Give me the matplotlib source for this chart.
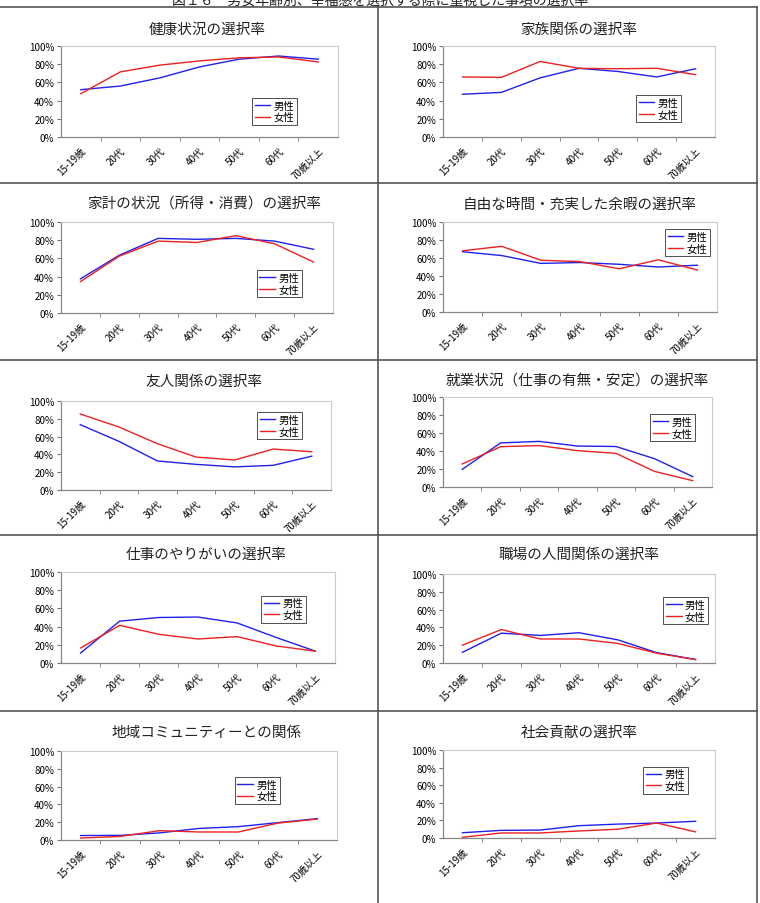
import matplotlib
matplotlib.use('Agg')
import matplotlib.pyplot as plt
from matplotlib.lines import Line2D
from matplotlib.ticker import FixedLocator, PercentFormatter

plt.rcParams['font.family'] = ['Noto Sans CJK JP', 'DejaVu Sans']

W, H = 760, 904

ages = ['15-19歳', '20代', '30代', '40代', '50代', '60代', '70歳以上']

titles = [
    '健康状況の選択率',
    '家族関係の選択率',
    '家計の状況（所得・消費）の選択率',
    '自由な時間・充実した余暇の選択率',
    '友人関係の選択率',
    '就業状況（仕事の有無・安定）の選択率',
    '仕事のやりがいの選択率',
    '職場の人間関係の選択率',
    '地域コミュニティーとの関係',
    '社会貢献の選択率',
]

male = [
    [52, 56, 65, 77, 85.5, 89, 85.5],
    [47, 49, 65, 75.5, 72, 66, 75],
    [37.5, 63.5, 82, 81, 82, 79, 70],
    [67, 62.7, 54, 55, 53, 50, 52],
    [73.4, 54.7, 32.6, 28.8, 26, 27.7, 38],
    [19.6, 49, 50.7, 45.5, 45, 31.5, 11.5],
    [11, 46, 50, 50.5, 44, 28, 13],
    [12, 33.5, 31, 34, 26, 11.6, 4],
    [5, 5.2, 8, 13, 15, 19.5, 24],
    [6, 8.7, 9, 14, 15.8, 17, 19],
]

female = [
    [47.6, 71.6, 79, 83.6, 87, 88, 82.5],
    [66, 65.5, 83, 75.5, 75, 75.5, 68.5],
    [34.5, 62.5, 79, 77.5, 85, 76, 56],
    [68, 73, 57.5, 56, 48, 58, 46.6],
    [85.4, 70.8, 52, 37, 33.7, 46, 43],
    [25.6, 44.8, 46, 40.4, 37.4, 17.4, 7],
    [16.5, 41.4, 31.5, 26.4, 29, 18.7, 13],
    [20, 37.6, 27, 27, 22, 11, 3.8],
    [2.2, 4, 10.5, 9, 9, 19, 23.5],
    [0.8, 5.7, 5.7, 8, 10, 17, 7],
]

# plot area in pixels: left, top, right, bottom ; title y ; legend anchor (axes fraction)
panels = [
    (61, 47, 338, 138, 30, (0.69, 0.43)),
    (443, 47, 715, 138, 30, (0.71, 0.46)),
    (61, 223, 333, 314, 205, (0.72, 0.47)),
    (443, 223, 717, 313, 205, (0.81, 0.92)),
    (61, 402, 331, 491, 382, (0.726, 0.876)),
    (443, 398, 712, 488, 382, (0.77, 0.81)),
    (61, 573, 335, 664, 555, (0.73, 0.74)),
    (443, 575, 715, 664, 555, (0.81, 0.74)),
    (61, 752, 337, 841, 733, (0.63, 0.71)),
    (443, 751, 715, 839, 733, (0.735, 0.81)),
]

fig = plt.figure(figsize=(W / 100, H / 100), dpi=100)

# page caption, cut by the top edge as in the scan
fig.text(0.5, 1 - 1 / H, '図１６　男女年齢別、幸福感を選択する際に重視した事項の選択率',
         ha='center', va='center', fontsize=10, color='#222222')

# grid of panel borders
border = '#555555'
for yy in [8, 184, 361, 536, 712]:
    fig.add_artist(Line2D([0, 757 / W], [1 - yy / H, 1 - yy / H], color=border, lw=1.2,
                          transform=fig.transFigure))
for xx in [378, 757]:
    fig.add_artist(Line2D([xx / W, xx / W], [1 - 8 / H, 0], color=border, lw=1.2,
                          transform=fig.transFigure))

x = list(range(len(ages)))
for i, (l, t, r, b, ty, leg) in enumerate(panels):
    ax = fig.add_axes([l / W, 1 - b / H, (r - l) / W, (b - t) / H])
    ax.plot(x, male[i], color='#2020ee', lw=1.0, label='男性')
    ax.plot(x, female[i], color='#ee2020', lw=1.0, label='女性')
    ax.set_xlim(-0.5, 6.5)
    ax.set_ylim(0, 100)
    ax.set_yticks([0, 20, 40, 60, 80, 100])
    ax.yaxis.set_major_formatter(PercentFormatter(decimals=0))
    ax.set_xticks(x)
    ax.set_xticklabels(ages, rotation=45, ha='right', rotation_mode='anchor', fontsize=7)
    ax.tick_params(axis='x', which='major', length=0, pad=6)
    ax.xaxis.set_minor_locator(FixedLocator([k + 0.5 for k in range(6)]))
    ax.tick_params(axis='x', which='minor', length=3, color='#777777')
    ax.tick_params(axis='y', labelsize=7, length=3, color='#777777', pad=2)
    for s in ['top', 'right']:
        ax.spines[s].set_color('#cccccc')
        ax.spines[s].set_linewidth(0.8)
    for s in ['left', 'bottom']:
        ax.spines[s].set_color('#888888')
        ax.spines[s].set_linewidth(0.9)
    cx = (l + r) / 2 / W + (0.01 if l < 300 else 0.0)
    fig.text(cx, 1 - ty / H, titles[i], ha='center', va='center', fontsize=10.5, color='#222222')
    lg = ax.legend(loc='upper left', bbox_to_anchor=leg, borderaxespad=0, fontsize=7.5,
                   handlelength=1.5, handletextpad=0.3, borderpad=0.25, labelspacing=0.15,
                   fancybox=False, framealpha=1, edgecolor='#333333')
    lg.get_frame().set_linewidth(0.6)

fig.savefig('out.png', dpi=100)
